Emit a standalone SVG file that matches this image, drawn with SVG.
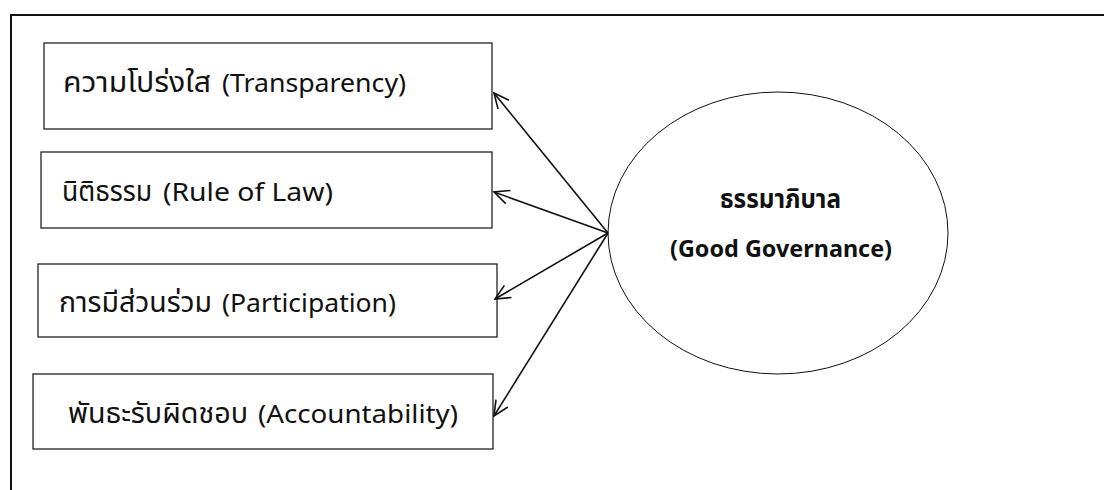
<svg xmlns="http://www.w3.org/2000/svg" width="1104" height="490" viewBox="0 0 1104 490">
  <style>
    .box { fill: #ffffff; stroke: #222222; stroke-width: 1.3; }
    .en { font-family: "Noto Sans", "DejaVu Sans", sans-serif; font-size: 25px; fill: #111111; }
    .th { font-family: "Noto Sans Thai", "DejaVu Sans", "Noto Sans", sans-serif; font-size: 28px; fill: #111111; }
    .title-en { font-family: "Noto Sans", "DejaVu Sans", sans-serif; font-size: 23px; font-weight: bold; fill: #111111; }
    .title-th { font-family: "Noto Sans Thai", "DejaVu Sans", "Noto Sans", sans-serif; font-size: 26px; font-weight: bold; fill: #111111; }
    .link { stroke: #111111; stroke-width: 1.6; fill: none; marker-end: url(#open-arrow); }
  </style>
  <defs>
    <marker id="open-arrow" viewBox="0 0 20 20" refX="18" refY="10" markerWidth="20" markerHeight="20" markerUnits="userSpaceOnUse" orient="auto">
      <path d="M3,3 L18,10 L3,17" fill="none" stroke="#111111" stroke-width="1.6"/>
    </marker>
  </defs>

  <rect width="1104" height="490" fill="#ffffff"/>
  <!-- outer frame, open to the right and bottom -->
  <path d="M11,492 L11,15 L1106,15" fill="none" stroke="#111111" stroke-width="2"/>

  <g id="node-transparency">
    <rect class="box" x="44" y="43" width="448" height="86"/>
    <text class="th" x="63" y="92" textLength="148" lengthAdjust="spacingAndGlyphs">ความโปร่งใส</text>
    <text class="en" x="222" y="92" textLength="184" lengthAdjust="spacingAndGlyphs">(Transparency)</text>
  </g>
  <g id="node-rule-of-law">
    <rect class="box" x="41" y="152" width="451" height="76"/>
    <text class="th" x="62" y="201" textLength="90" lengthAdjust="spacingAndGlyphs">นิติธรรม</text>
    <text class="en" x="163" y="201" textLength="170" lengthAdjust="spacingAndGlyphs">(Rule of Law)</text>
  </g>
  <g id="node-participation">
    <rect class="box" x="38" y="264" width="459" height="73"/>
    <text class="th" x="59" y="312" textLength="153" lengthAdjust="spacingAndGlyphs">การมีส่วนร่วม</text>
    <text class="en" x="222" y="312" textLength="174" lengthAdjust="spacingAndGlyphs">(Participation)</text>
  </g>
  <g id="node-accountability">
    <rect class="box" x="33" y="374" width="460" height="75"/>
    <text class="th" x="68" y="423" textLength="180" lengthAdjust="spacingAndGlyphs">พันธะรับผิดชอบ</text>
    <text class="en" x="258" y="423" textLength="200" lengthAdjust="spacingAndGlyphs">(Accountability)</text>
  </g>

  <g id="node-good-governance">
    <ellipse cx="778" cy="233" rx="170" ry="141" fill="#ffffff" stroke="#111111" stroke-width="1"/>
    <text class="title-th" x="720" y="208" textLength="121" lengthAdjust="spacingAndGlyphs">ธรรมาภิบาล</text>
    <text class="title-en" x="670" y="257" textLength="222" lengthAdjust="spacingAndGlyphs">(Good Governance)</text>
  </g>

  <g id="connectors">
    <line class="link" x1="608" y1="233" x2="494" y2="93"/>
    <line class="link" x1="608" y1="233" x2="494" y2="192"/>
    <line class="link" x1="608" y1="233" x2="495" y2="299"/>
    <line class="link" x1="608" y1="233" x2="494" y2="416"/>
  </g>
</svg>
